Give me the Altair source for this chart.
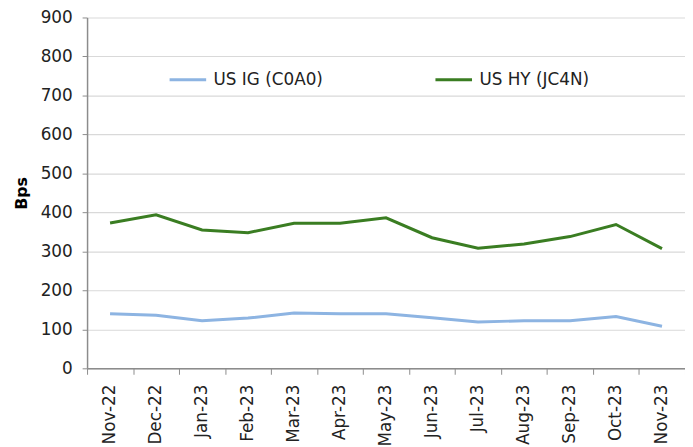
import altair as alt
import pandas as pd

months = ["Nov-22", "Dec-22", "Jan-23", "Feb-23", "Mar-23", "Apr-23", "May-23",
          "Jun-23", "Jul-23", "Aug-23", "Sep-23", "Oct-23", "Nov-23"]
us_ig = [140, 136, 122, 129, 142, 140, 140, 130, 119, 122, 122, 133, 108]
us_hy = [373, 394, 355, 348, 372, 372, 386, 335, 308, 319, 338, 369, 307]
series_names = ["US IG (C0A0)", "US HY (JC4N)"]
series_colors = ["#8DB4E2", "#3A7D22"]

rows = []
for i, m in enumerate(months):
    rows.append({"month": m, "series": series_names[0], "value": us_ig[i]})
    rows.append({"month": m, "series": series_names[1], "value": us_hy[i]})
df = pd.DataFrame(rows)

FONT = "DejaVu Sans"

chart = alt.Chart(df).mark_line(strokeWidth=3).encode(
    x=alt.X("month:N", sort=months, bandPosition=0.5,
            scale=alt.Scale(type="band", paddingInner=0, paddingOuter=0),
            axis=alt.Axis(title=None, labelAngle=-90, tickBand="extent",
                          tickSize=6, tickColor="#8c8c8c", domainColor="#8c8c8c",
                          domainWidth=1.5, labelFont=FONT, labelFontSize=17,
                          labelColor="#222222", labelPadding=10, grid=False)),
    y=alt.Y("value:Q", scale=alt.Scale(domain=[0, 900], nice=False),
            axis=alt.Axis(title="Bps", values=list(range(0, 1000, 100)),
                          tickSize=5, tickColor="#8c8c8c", domainColor="#8c8c8c",
                          domainWidth=1.5, gridColor="#d9d9d9", gridWidth=1.2,
                          labelFont=FONT, labelFontSize=17, labelColor="#222222",
                          labelPadding=10, titleFont=FONT, titleFontSize=16,
                          titleFontWeight="bold", titleColor="#000000",
                          titlePadding=11)),
    color=alt.Color("series:N",
                    scale=alt.Scale(domain=series_names, range=series_colors),
                    legend=alt.Legend(title=None, orient="none", legendX=82,
                                      legendY=43, direction="horizontal",
                                      symbolType="stroke", symbolSize=1369,
                                      symbolStrokeWidth=3, labelFont=FONT,
                                      labelFontSize=17, labelColor="#222222",
                                      columnPadding=107, labelOffset=6)),
).properties(
    width=605, height=355,
    autosize=alt.AutoSizeParams(type="none"),
    padding={"left": 80, "top": 7, "right": 0, "bottom": 76},
).configure_view(stroke=None)

chart.save("out.html", embed_options={"renderer": "svg", "actions": False})
